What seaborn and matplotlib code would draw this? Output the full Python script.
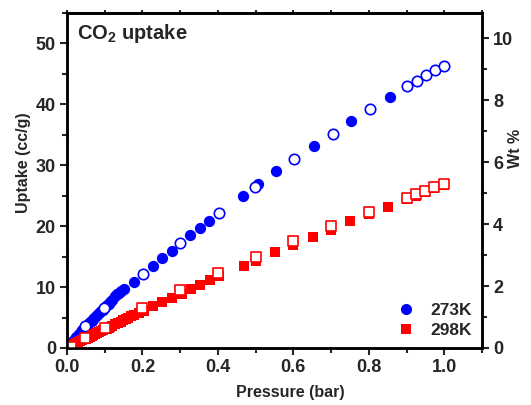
import matplotlib
matplotlib.use("Agg")
import matplotlib.pyplot as plt
import seaborn as sns
import pandas as pd
from matplotlib.ticker import MultipleLocator, NullFormatter
from matplotlib.lines import Line2D

# ---- data ----
p_273_ads = [0.004, 0.008, 0.012, 0.016, 0.02, 0.024, 0.028, 0.032, 0.036, 0.04,
             0.045, 0.05, 0.055, 0.06, 0.065, 0.07, 0.075, 0.08, 0.085, 0.09,
             0.095, 0.1, 0.105, 0.11, 0.115, 0.12, 0.127, 0.132, 0.138, 0.144,
             0.151, 0.178, 0.227, 0.251, 0.278, 0.326, 0.353, 0.377, 0.466, 0.505,
             0.554, 0.654, 0.754, 0.855]
u_273_ads = [0.3, 0.6, 0.9, 1.2, 1.5, 1.75, 2.0, 2.3, 2.6, 2.9,
             3.2, 3.55, 3.9, 4.2, 4.5, 4.8, 5.1, 5.4, 5.7, 6.0,
             6.3, 6.65, 7.0, 7.3, 7.6, 7.9, 8.5, 8.8, 9.1, 9.4,
             9.7, 10.8, 13.4, 14.7, 16.0, 18.5, 19.7, 20.9, 24.9, 26.9,
             29.0, 33.1, 37.3, 41.2]
p_273_des = [0.008, 0.0485, 0.099, 0.202, 0.300, 0.403, 0.499, 0.603, 0.704, 0.804,
             0.902, 0.927, 0.951, 0.976, 1.0]
u_273_des = [0.7, 3.6, 6.6, 12.2, 17.2, 22.1, 26.5, 31.0, 35.2, 39.2,
             42.95, 43.9, 44.8, 45.6, 46.3]

p_298_ads = [0.005, 0.01, 0.015, 0.02, 0.025, 0.03, 0.035, 0.04, 0.045, 0.05,
             0.055, 0.06, 0.065, 0.07, 0.075, 0.08, 0.085, 0.09, 0.095, 0.1,
             0.105, 0.11, 0.115, 0.12, 0.128, 0.135, 0.142, 0.149, 0.156, 0.163,
             0.17, 0.178, 0.19, 0.203, 0.227, 0.253,
             0.279, 0.304, 0.328, 0.353, 0.379, 0.403, 0.468, 0.501, 0.551, 0.600,
             0.651, 0.700, 0.751, 0.800, 0.851, 0.900, 0.925, 0.950, 0.974, 0.999]
u_298_ads = [0.1, 0.3, 0.45, 0.6, 0.78, 0.95, 1.1, 1.25, 1.4, 1.55,
             1.7, 1.85, 2.0, 2.15, 2.3, 2.45, 2.6, 2.75, 2.9, 3.05,
             3.2, 3.35, 3.5, 3.65, 3.9, 4.1, 4.35, 4.6, 4.8, 5.0,
             5.2, 5.4, 5.75, 6.1, 6.85, 7.5,
             8.27, 8.92, 9.67, 10.39, 11.09, 11.75, 13.43, 14.24, 15.7, 16.9,
             18.27, 19.36, 20.77, 22.0, 23.2, 24.4, 25.0, 25.55, 26.2, 26.7]
p_298_des = [0.011, 0.0486, 0.1, 0.199, 0.300, 0.400, 0.501, 0.600, 0.700, 0.800,
             0.900, 0.925, 0.950, 0.974, 0.999]
u_298_des = [0.11, 1.58, 3.21, 6.64, 9.58, 12.35, 15.0, 17.6, 20.07, 22.4,
             24.68, 25.24, 25.82, 26.46, 26.97]

series_labels = ["273K", "298K"]
x_ticks = [0.0, 0.2, 0.4, 0.6, 0.8, 1.0]
wt_factor = 0.1965  # wt% per cc/g

BLUE = "#0000FF"
RED = "#FF0000"

sns.set_style("ticks")
plt.rcParams['font.family'] = ['Liberation Sans', 'DejaVu Sans']
plt.rcParams['font.weight'] = 'bold'
plt.rcParams['mathtext.fontset'] = 'custom'
plt.rcParams['mathtext.rm'] = 'Liberation Sans:bold'
plt.rcParams['mathtext.bf'] = 'Liberation Sans:bold'
plt.rcParams['mathtext.it'] = 'Liberation Sans:bold'

fig = plt.figure(figsize=(5.31, 4.05), dpi=100)
ax = fig.add_axes([67/531, 57/405, 415/531, 335/405])

MS = 66
sns.scatterplot(x=p_273_ads, y=u_273_ads, ax=ax, color=BLUE, marker='o', s=MS,
                linewidth=0, zorder=3, legend=False)
sns.scatterplot(x=p_273_des, y=u_273_des, ax=ax, color='white', edgecolor=BLUE,
                marker='o', s=MS*0.85, linewidth=1.2, zorder=4, legend=False)
sns.scatterplot(x=p_298_ads, y=u_298_ads, ax=ax, color=RED, marker='s', s=MS*0.9,
                linewidth=0, zorder=5, legend=False)
sns.scatterplot(x=p_298_des, y=u_298_des, ax=ax, color='white', edgecolor=RED,
                marker='s', s=MS*0.75, linewidth=1.2, zorder=6, legend=False)

ax.set_xlim(0, 1.1)
ax.set_ylim(0, 55)
ax.set_xticks(x_ticks)
ax.set_xticklabels([f"{v:.1f}" for v in x_ticks])
ax.xaxis.set_minor_locator(MultipleLocator(0.1))
ax.yaxis.set_major_locator(MultipleLocator(10))
ax.yaxis.set_minor_locator(MultipleLocator(5))

ax.tick_params(which='major', direction='out', length=5, width=1.5, labelsize=13, pad=3)
ax.tick_params(which='minor', direction='out', length=3.5, width=1.5)

ax.set_xlabel("Pressure (bar)", fontsize=11.5, fontweight='bold')
ax.set_ylabel("Uptake (cc/g)", fontsize=11.5, fontweight='bold')
ax.xaxis.set_label_coords(0.537, -0.11)
ax.yaxis.set_label_coords(-0.087, 0.552)

# top ticks
secx = ax.secondary_xaxis('top')
secx.xaxis.set_major_locator(MultipleLocator(0.1))
secx.xaxis.set_major_formatter(NullFormatter())
secx.tick_params(which='major', direction='out', length=2.5, width=1.5)
secx.spines['top'].set_linewidth(1.8)

ax2 = ax.twinx()
ax2.set_ylim(0, 55 * wt_factor)
ax2.yaxis.set_major_locator(MultipleLocator(2))
ax2.yaxis.set_minor_locator(MultipleLocator(1))
ax2.tick_params(which='major', direction='out', length=5, width=1.5, labelsize=13, pad=3)
ax2.tick_params(which='minor', direction='out', length=3.5, width=1.5)
ax2.set_ylabel("Wt %", fontsize=11.5, fontweight='bold')
ax2.yaxis.set_label_coords(1.063, 0.597)

for a in (ax, ax2):
    for s in a.spines.values():
        s.set_linewidth(1.8)
        s.set_visible(True)
        s.set_color('black')

ax.text(0.023, 0.94, r"CO$_{2}$ uptake", transform=ax.transAxes, fontsize=14.5,
        fontweight='bold', ha='left', va='center')

handles = [Line2D([], [], marker='o', linestyle='none', color=BLUE, markersize=8, markeredgewidth=0),
           Line2D([], [], marker='s', linestyle='none', color=RED, markersize=7.5, markeredgewidth=0)]
leg = ax.legend(handles, series_labels, loc='lower right', bbox_to_anchor=(0.985, 0.02),
                frameon=False, fontsize=12.5, handletextpad=0.9, labelspacing=0.25,
                borderaxespad=0, borderpad=0.2, handlelength=1.0)
for t in leg.get_texts():
    t.set_fontweight('bold')

fig.savefig("out.png", dpi=100)
